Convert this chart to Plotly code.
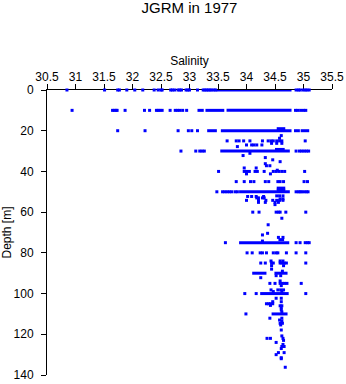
import plotly.graph_objects as go

# ---- scattered observations (salinity, depth in m) ----
sal_d0 = [30.85, 31.51, 31.74, 31.77, 31.9, 32.04, 32.18, 32.38, 32.45, 32.5, 32.52, 32.67, 32.7,
          32.74, 32.8, 32.83, 32.86, 32.94, 32.97, 33.0, 33.14, 33.24, 33.27, 33.3, 33.33, 33.36,
          33.39, 33.43, 33.46, 34.87, 34.91, 34.94, 34.99, 35.03, 35.06, 35.1]
sal_d10 = [30.94, 31.65, 31.68, 31.71, 31.73, 31.87, 32.21, 32.3, 32.42, 32.45, 32.48, 32.52,
           32.66, 32.75, 32.79, 32.83, 32.88, 32.95, 34.86, 34.9, 34.95, 35.0, 35.04]
sal_d20 = [31.74, 32.22, 32.8, 32.98, 33.04, 33.14, 34.86, 34.91]

other_sal = [34.61, 34.58,
             33.66, 33.82, 33.87, 33.95, 34.06, 34.28, 34.38, 34.43, 34.47, 34.53, 34.58, 34.62, 35.03,
             34.44, 34.53, 34.62,
             33.84, 34.0, 34.09, 34.13, 34.18, 34.27,
             32.85, 33.11, 33.18, 33.22, 33.26, 34.87, 34.93, 34.97, 35.01, 35.05, 35.09,
             34.06, 33.94, 34.33, 34.46, 34.59, 34.33, 34.35, 34.41, 33.96, 34.17, 34.54,
             33.51, 33.96, 34.0, 34.05, 34.15, 34.19, 34.31, 34.47, 34.52, 34.57, 34.62, 34.67, 35.02,
             34.0, 34.42,
             33.82, 33.96, 34.07, 34.13, 34.33, 34.39, 34.55, 34.59, 34.65, 35.01, 35.07,
             33.48, 33.58, 33.62, 33.66, 33.7, 33.74, 33.8, 33.84,
             34.87, 34.91, 34.94, 34.97, 35.01, 35.05, 35.08,
             34.02, 34.09, 34.17, 34.3, 34.53, 34.58, 34.64,
             34.18, 34.21, 34.28, 34.31, 34.59, 34.64,
             34.0, 34.21, 34.34, 34.46, 34.53, 34.58, 34.64,
             34.21, 34.33, 34.5, 34.56, 34.5,
             34.11, 34.22, 34.52, 34.56, 34.59, 34.69, 35.04,
             34.62, 34.38, 34.37, 34.28, 34.56, 34.64, 34.28,
             33.63, 34.87, 34.94, 35.03, 35.07, 35.1,
             34.01, 34.1, 34.24, 34.28, 34.35, 34.47, 34.52, 34.55, 34.7, 34.87, 35.04,
             34.43, 34.59, 34.64,
             34.25, 34.33, 34.44, 34.47, 34.59, 34.62, 34.66, 34.7, 35.04,
             34.44, 34.65, 34.44,
             34.63, 34.52, 34.6, 34.25,
             34.59, 34.41, 34.5, 34.59, 34.63, 34.67, 34.71, 34.96, 34.61,
             34.43, 34.55, 34.6, 34.65, 34.47, 34.62,
             33.97, 34.17, 35.04,
             34.52, 34.61, 34.46, 34.61, 34.35, 34.39, 34.42, 34.46, 34.42, 34.59, 34.62,
             34.61, 34.61, 34.62,
             33.99,
             34.41, 34.62, 34.58, 34.62, 34.59, 34.63, 34.6, 34.61, 34.62,
             34.36, 34.42, 34.64, 34.65, 34.52, 34.64, 34.62, 34.66, 34.61,
             34.56, 34.66, 34.52, 34.61, 34.61, 34.68]
other_depth = [22.4, 23.7,
               25, 25, 25, 25, 25, 25, 25, 25, 25, 25, 25, 25, 25,
               26.2, 26.2, 26.2,
               27.8, 27, 27, 27, 27, 27,
               30, 30, 30, 30, 30, 30, 30, 30, 30, 30, 30,
               31.1, 32.2, 33.2, 34.3, 35.2, 36.2, 37.2, 37.2, 38.3, 38.3, 39.4,
               40, 40, 40, 40, 40, 40, 40, 40, 40, 40, 40, 40, 40,
               41.2, 41.2,
               45, 45, 45, 45, 45, 45, 45, 45, 45, 45, 45,
               50, 50, 50, 50, 50, 50, 50, 50,
               50, 50, 50, 50, 50, 50, 50,
               52.3, 52.3, 52.3, 52.3, 52, 52, 52,
               53, 53, 53, 53, 53.5, 53.5,
               54.2, 54.2, 54.2, 54.2, 54.2, 54.2, 54.2,
               55.2, 55.2, 55.2, 55.2, 56.3,
               60, 60, 60, 60, 60, 60, 60,
               63, 66.2, 70.4, 71.2, 72.4, 72.4, 74.2,
               75, 75, 75, 75, 75, 75,
               80, 80, 80, 80, 80, 80, 80, 80, 80, 80, 80,
               84, 84, 84,
               85, 85, 85, 85, 85, 85, 85, 85, 85,
               86.3, 86.3, 88,
               89, 91.2, 91.2, 92.2,
               93.8, 95, 95, 95, 95, 95, 95, 95, 96.1,
               98.2, 98.2, 98.2, 98.2, 99, 99,
               100, 100, 100,
               102.3, 102.3, 104, 104, 105, 105, 105, 105, 105.8, 106, 106,
               107, 108, 109,
               110,
               112.1, 112.1, 113, 113.5, 114.6, 114.6, 115.4, 117.9, 120.8,
               122, 122, 122, 123, 124, 125, 126, 126, 127,
               129, 129, 130, 131.5, 132, 136.2]

# ---- dense runs of observations (depth, first and last salinity) ----
run_depth = [0, 10, 10, 10, 20, 20, 20, 19, 30, 29.2, 50, 48.2, 49.2, 73.5, 75, 90, 90, 100, 110]
run_start = [33.47, 33.14, 33.28, 33.65, 33.31, 33.55, 34.95, 34.53, 33.54, 34.5, 33.87, 34.53, 34.53,
             34.56, 33.87, 34.1, 34.49, 34.24, 34.44]
run_end = [34.79, 33.25, 33.61, 34.79, 33.48, 34.79, 35.1, 34.68, 34.76, 34.67, 34.76, 34.68, 34.68,
           34.66, 34.75, 34.35, 34.72, 34.74, 34.72]

x_ticks = [30.5, 31, 31.5, 32, 32.5, 33, 33.5, 34, 34.5, 35, 35.5]
x_tick_text = ["30.5", "31", "31.5", "32", "32.5", "33", "33.5", "34", "34.5", "35", "35.5"]
y_ticks = [0, 20, 40, 60, 80, 100, 120, 140]

BLUE = "rgb(0,0,255)"
FONT = "Liberation Sans, Arial, sans-serif"

pts_x = sal_d0 + sal_d10 + sal_d20 + other_sal
pts_y = [0] * len(sal_d0) + [10] * len(sal_d10) + [20] * len(sal_d20) + other_depth

run_x, run_y = [], []
for d, s, e in zip(run_depth, run_start, run_end):
    run_x += [s, e, None]
    run_y += [d, d, None]

fig = go.Figure()
fig.add_trace(go.Scatter(x=run_x, y=run_y, mode="lines",
                         line=dict(color=BLUE, width=3), cliponaxis=False,
                         hoverinfo="skip", showlegend=False))
fig.add_trace(go.Scatter(x=pts_x, y=pts_y, mode="markers",
                         marker=dict(symbol="square", size=3, color=BLUE, line=dict(width=0)),
                         cliponaxis=False, showlegend=False))

fig.update_layout(
    width=346, height=384,
    margin=dict(l=47, r=14, t=90, b=9, pad=0, autoexpand=False),
    paper_bgcolor="white", plot_bgcolor="white",
    font=dict(family=FONT, size=12, color="black"),
    title=dict(text="JGRM in 1977", font=dict(size=15, family=FONT, color="black"),
               x=0.5, xref="paper", xanchor="center",
               y=1 - 8 / 384, yref="container", yanchor="middle", automargin=False),
    xaxis=dict(side="top", range=[30.5, 35.5], tickvals=x_ticks, ticktext=x_tick_text,
               showline=True, linecolor="black", linewidth=1, mirror=False,
               ticks="outside", ticklen=5, tickwidth=1, tickcolor="black",
               showgrid=False, zeroline=False, layer="below traces", automargin=False,
               tickfont=dict(size=12), ticklabelstandoff=-2,
               title=dict(text="Salinity", font=dict(size=12), standoff=2)),
    yaxis=dict(range=[140, 0], tickvals=y_ticks,
               showline=True, linecolor="black", linewidth=1,
               ticks="outside", ticklen=5, tickwidth=1, tickcolor="black",
               showgrid=False, zeroline=False, layer="below traces", automargin=False,
               tickfont=dict(size=12), ticklabelstandoff=5,
               title=dict(text="Depth [m]", font=dict(size=12), standoff=4)),
)

fig.write_html("out.html")
